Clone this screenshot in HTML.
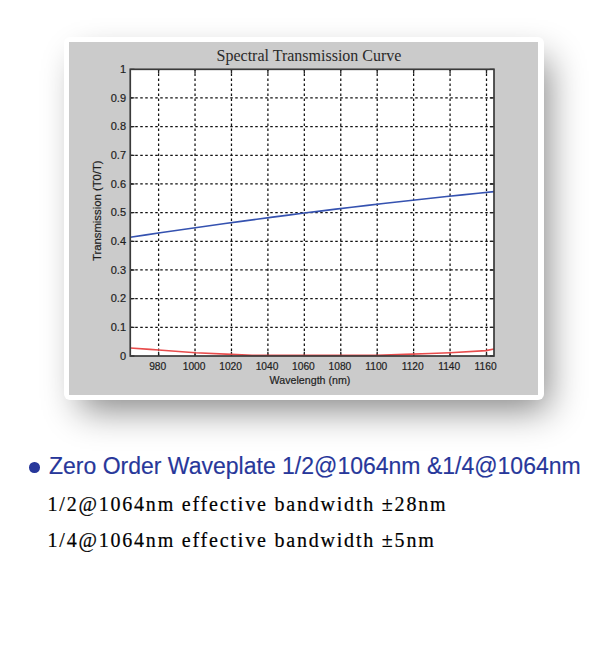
<!DOCTYPE html>
<html><head><meta charset="utf-8"><style>
html,body{margin:0;padding:0;background:#fff;width:600px;height:663px;overflow:hidden;position:relative}
.frame{position:absolute;left:64px;top:37px;width:480px;height:363px;background:#fff;border-radius:6px;box-shadow:10px 16px 34px -6px rgba(0,0,0,0.48)}
.panel{position:absolute;left:69px;top:42px;width:469px;height:352.5px;background:#cbcbcb}
.h{position:absolute;left:49px;top:452px;font-family:"Liberation Sans",sans-serif;font-size:23px;color:#27379a;-webkit-text-stroke:0.15px #27379a;white-space:nowrap;line-height:28px}
.dot{position:absolute;left:29px;top:462px;width:10.5px;height:10.5px;border-radius:50%;background:#27379a}
.p{position:absolute;left:47.5px;font-family:"Liberation Serif",serif;font-size:20px;color:#000;-webkit-text-stroke:0.2px #000;white-space:nowrap;letter-spacing:1.8px;line-height:24px}
</style></head><body>
<div class="frame"></div>
<div class="panel"></div>
<svg width="600" height="663" viewBox="0 0 600 663" style="position:absolute;left:0;top:0"><rect x="130.25" y="69.3" width="363.75" height="286.70" fill="#fff"/><path d="M130.25 327.33H494.0 M130.25 298.66H494.0 M130.25 269.99H494.0 M130.25 241.32H494.0 M130.25 212.65H494.0 M130.25 183.98H494.0 M130.25 155.31H494.0 M130.25 126.64H494.0 M130.25 97.97H494.0" stroke="#111" stroke-width="1.25" stroke-dasharray="2.5 2.5" fill="none"/><path d="M158.60 356.0V69.3 M195.03 356.0V69.3 M231.47 356.0V69.3 M267.90 356.0V69.3 M304.33 356.0V69.3 M340.77 356.0V69.3 M377.20 356.0V69.3 M413.63 356.0V69.3 M450.07 356.0V69.3 M486.50 356.0V69.3" stroke="#111" stroke-width="1.25" stroke-dasharray="2.5 2.5" fill="none"/><path d="M130.25 356.00h4.2M494.0 356.00h-4.2 M130.25 327.33h4.2M494.0 327.33h-4.2 M130.25 298.66h4.2M494.0 298.66h-4.2 M130.25 269.99h4.2M494.0 269.99h-4.2 M130.25 241.32h4.2M494.0 241.32h-4.2 M130.25 212.65h4.2M494.0 212.65h-4.2 M130.25 183.98h4.2M494.0 183.98h-4.2 M130.25 155.31h4.2M494.0 155.31h-4.2 M130.25 126.64h4.2M494.0 126.64h-4.2 M130.25 97.97h4.2M494.0 97.97h-4.2 M130.25 69.30h4.2M494.0 69.30h-4.2 M158.60 356.0v-4.2M158.60 69.3v4.2 M195.03 356.0v-4.2M195.03 69.3v4.2 M231.47 356.0v-4.2M231.47 69.3v4.2 M267.90 356.0v-4.2M267.90 69.3v4.2 M304.33 356.0v-4.2M304.33 69.3v4.2 M340.77 356.0v-4.2M340.77 69.3v4.2 M377.20 356.0v-4.2M377.20 69.3v4.2 M413.63 356.0v-4.2M413.63 69.3v4.2 M450.07 356.0v-4.2M450.07 69.3v4.2 M486.50 356.0v-4.2M486.50 69.3v4.2" stroke="#222" stroke-width="1.3" fill="none"/><path d="M130.2 237.25 L146.1 234.87 L161.9 232.53 L177.7 230.23 L193.5 227.96 L209.3 225.73 L225.1 223.53 L241.0 221.37 L256.8 219.24 L272.6 217.15 L288.4 215.10 L304.2 213.08 L320.0 211.10 L335.8 209.15 L351.7 207.24 L367.5 205.37 L383.3 203.53 L399.1 201.73 L414.9 199.96 L430.7 198.23 L446.6 196.53 L462.4 194.87 L478.2 193.25 L494.0 191.66" stroke="#3552b0" stroke-width="1.6" fill="none"/><path d="M130.25 348 L150 349.4 L158.6 350 L195.5 352.8 L231.5 354.4 L252 355.4 L377 355.4 L405 354.4 L430 353.5 L450 352.7 L486 350.6 L494 349" stroke="#e84c4c" stroke-width="1.6" fill="none"/><rect x="130.25" y="69.3" width="363.75" height="286.70" fill="none" stroke="#3a3a3a" stroke-width="1.7"/><g font-family="Liberation Sans, sans-serif" font-size="11" fill="#1e1e1e" stroke="#1e1e1e" stroke-width="0.2"><text x="126" y="359.6" text-anchor="end">0</text><text x="126" y="330.9" text-anchor="end">0.1</text><text x="126" y="302.3" text-anchor="end">0.2</text><text x="126" y="273.6" text-anchor="end">0.3</text><text x="126" y="244.9" text-anchor="end">0.4</text><text x="126" y="216.2" text-anchor="end">0.5</text><text x="126" y="187.6" text-anchor="end">0.6</text><text x="126" y="158.9" text-anchor="end">0.7</text><text x="126" y="130.2" text-anchor="end">0.8</text><text x="126" y="101.6" text-anchor="end">0.9</text><text x="126" y="72.9" text-anchor="end">1</text><text transform="translate(157.7,369.5) scale(0.93,1)" text-anchor="middle">980</text><text transform="translate(194.1,369.5) scale(0.93,1)" text-anchor="middle">1000</text><text transform="translate(230.6,369.5) scale(0.93,1)" text-anchor="middle">1020</text><text transform="translate(267.0,369.5) scale(0.93,1)" text-anchor="middle">1040</text><text transform="translate(303.4,369.5) scale(0.93,1)" text-anchor="middle">1060</text><text transform="translate(339.9,369.5) scale(0.93,1)" text-anchor="middle">1080</text><text transform="translate(376.3,369.5) scale(0.93,1)" text-anchor="middle">1100</text><text transform="translate(412.7,369.5) scale(0.93,1)" text-anchor="middle">1120</text><text transform="translate(449.2,369.5) scale(0.93,1)" text-anchor="middle">1140</text><text transform="translate(485.6,369.5) scale(0.93,1)" text-anchor="middle">1160</text><text transform="translate(310,383.5) scale(0.97,1)" text-anchor="middle">Wavelength (nm)</text><text transform="translate(101.3,210.7) rotate(-90)" text-anchor="middle" font-size="11.3">Transmission (T0/T)</text></g><text x="309" y="60.7" text-anchor="middle" font-family="Liberation Serif, serif" font-size="16" fill="#2a2a2a">Spectral Transmission Curve</text></svg>
<div class="dot"></div>
<div class="h">Zero Order Waveplate 1/2@1064nm &amp;1/4@1064nm</div>
<div class="p" style="top:492px">1/2@1064nm effective bandwidth ±28nm</div>
<div class="p" style="top:528px">1/4@1064nm effective bandwidth ±5nm</div>
</body></html>
